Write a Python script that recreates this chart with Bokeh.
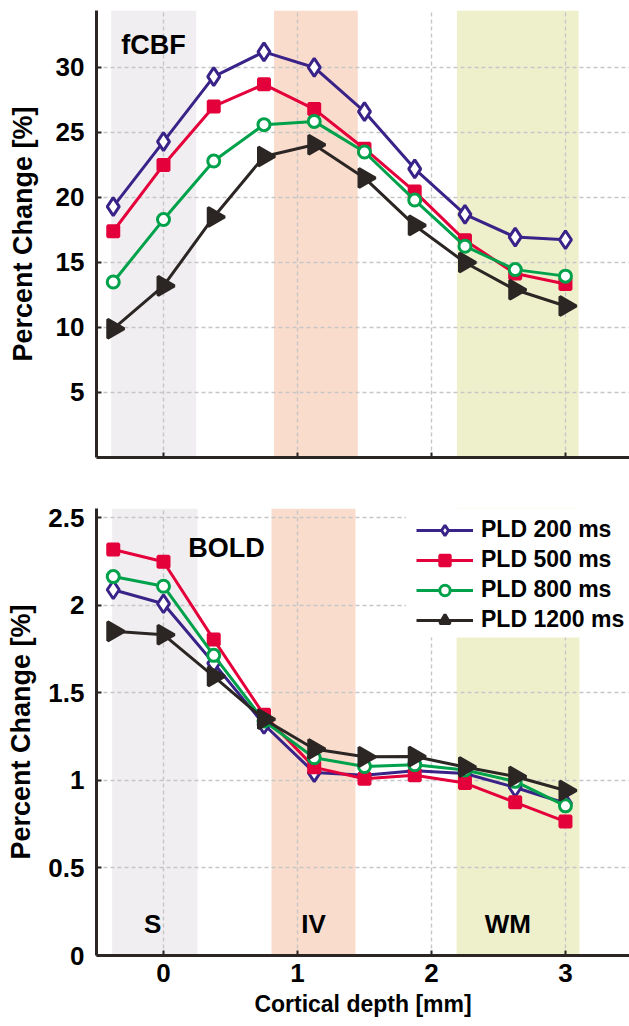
import math

from bokeh.embed import file_html
from bokeh.layouts import column
from bokeh.models import BoxAnnotation, FixedTicker, Label, Range1d
from bokeh.plotting import figure
from bokeh.resources import INLINE

# Cortical depth of each sampled layer [mm]
depth_mm = [-0.375, 0.0, 0.375, 0.75, 1.125, 1.5, 1.875, 2.25, 2.625, 3.0]

# fCBF percent change per post-labelling delay
cbf_pld200 = [19.3, 24.3, 29.3, 31.2, 30.0, 26.6, 22.2, 18.7, 16.95, 16.75]
cbf_pld500 = [17.4, 22.5, 27.0, 28.7, 26.8, 23.75, 20.45, 16.7, 14.15, 13.35]
cbf_pld800 = [13.5, 18.3, 22.8, 25.6, 25.85, 23.5, 19.8, 16.25, 14.45, 13.95]
cbf_pld1200 = [9.9, 13.2, 18.5, 23.15, 24.05, 21.5, 17.85, 15.0, 12.9, 11.65]

# BOLD percent change per post-labelling delay
bold_pld200 = [2.09, 2.01, 1.67, 1.32, 1.045, 1.03, 1.055, 1.04, 0.96, 0.87]
bold_pld500 = [2.32, 2.25, 1.805, 1.375, 1.075, 1.01, 1.03, 0.985, 0.875, 0.765]
bold_pld800 = [2.165, 2.11, 1.715, 1.34, 1.13, 1.08, 1.09, 1.06, 0.995, 0.855]
bold_pld1200 = [1.852, 1.833, 1.595, 1.35, 1.18, 1.135, 1.137, 1.077, 1.023, 0.943]

series_names = ["PLD 200 ms", "PLD 500 ms", "PLD 800 ms", "PLD 1200 ms"]

# Cortical regions: superficial, layer IV, white matter
region_names = ["S", "IV", "WM"]
region_label_x = [-0.08, 1.12, 2.57]
cbf_region_left = [-0.39, 0.825, 2.19]
cbf_region_right = [0.244, 1.45, 3.098]
bold_region_left = [-0.383, 0.806, 2.187]
bold_region_right = [0.254, 1.433, 3.104]

x_ticks = [0, 1, 2, 3]
cbf_y_ticks = [5, 10, 15, 20, 25, 30]
bold_y_ticks = [0, 0.5, 1, 1.5, 2, 2.5]
bold_y_tick_labels = ["0", "0.5", "1", "1.5", "2", "2.5"]

FONT = "Liberation Sans"
INK = "#2b2624"
series_colors = ["#3a2388", "#e4003a", "#00a14b", "#2b2624"]
series_markers = ["diamond", "square", "circle", "triangle"]
series_fills = ["white", "#e4003a", "white", "#2b2624"]
series_sizes = [18, 11, 12, 19]
series_angles = [0.0, 0.0, 0.0, -math.pi / 2]
region_colors = ["#f0eef0", "#fadccc", "#eef0cc"]

X_START, X_END = -0.5, 3.478


def make_panel(height, border_top, border_bottom, y_end, y_ticks, label_standoff):
    p = figure(
        width=629, height=height,
        x_range=Range1d(X_START, X_END), y_range=Range1d(0, y_end),
        output_backend="svg", toolbar_location=None,
        min_border_left=96, min_border_right=0,
        min_border_top=border_top, min_border_bottom=border_bottom,
    )
    p.outline_line_color = None
    p.background_fill_color = "white"

    p.xaxis.ticker = FixedTicker(ticks=x_ticks)
    p.yaxis.ticker = FixedTicker(ticks=y_ticks)
    p.xgrid.ticker = FixedTicker(ticks=x_ticks)
    p.ygrid.ticker = FixedTicker(ticks=y_ticks)
    p.grid.grid_line_color = "#c6c6c6"
    p.grid.grid_line_dash = "4 3"
    p.grid.grid_line_width = 1.4

    for ax in (p.xaxis, p.yaxis):
        ax.axis_line_color = INK
        ax.axis_line_width = 3
        ax.major_tick_line_color = INK
        ax.major_tick_line_width = 2
        ax.major_tick_in = 5
        ax.major_tick_out = 0
        ax.minor_tick_line_color = None
        ax.major_label_text_font = FONT
        ax.major_label_text_font_style = "bold"
        ax.major_label_text_color = "black"
        ax.axis_label_text_font = FONT
        ax.axis_label_text_font_style = "bold"
        ax.axis_label_text_color = "black"

    p.yaxis.major_label_text_font_size = "26px"
    p.yaxis.major_label_standoff = 12
    p.yaxis.axis_label = "Percent Change [%]"
    p.yaxis.axis_label_text_font_size = "27px"
    p.yaxis.axis_label_standoff = label_standoff
    return p


def add_regions(p, left, right, y_end):
    p.quad(left=left, right=right, bottom=0, top=y_end,
           fill_color=region_colors, line_color=None, level="image")


def add_series(p, values_list, with_legend):
    for name, vals, color, marker, fill, size, angle in zip(
            series_names, values_list, series_colors, series_markers,
            series_fills, series_sizes, series_angles):
        extra = {"legend_label": name} if with_legend else {}
        p.line(depth_mm, vals, line_color=color, line_width=3, **extra)
        p.scatter(depth_mm, vals, marker=marker, size=size, angle=angle,
                  line_color=color, line_width=3, fill_color=fill, **extra)


def add_text(p, x, y, text, size):
    p.add_layout(Label(x=x, y=y, text=text, text_font=FONT,
                       text_font_style="bold", text_font_size=size,
                       text_color="black", text_align="center",
                       text_baseline="middle"))


# ---- Panel A: fCBF ----
CBF_TOP = 34.38
p1 = make_panel(490, 10, 33, CBF_TOP, cbf_y_ticks, 15)
p1.xaxis.major_label_overrides = {t: "" for t in x_ticks}
add_regions(p1, cbf_region_left, cbf_region_right, CBF_TOP)
add_series(p1, [cbf_pld200, cbf_pld500, cbf_pld800, cbf_pld1200], False)
add_text(p1, -1.08, 33.6, "A", "22px")
add_text(p1, -0.075, 31.7, "fCBF", "27px")

# ---- Panel B: BOLD ----
BOLD_TOP = 2.554
p2 = make_panel(536, 18, 71, BOLD_TOP, bold_y_ticks, 9)
p2.yaxis.major_label_overrides = dict(zip(bold_y_ticks, bold_y_tick_labels))
p2.xaxis.major_label_text_font_size = "26px"
p2.xaxis.major_label_standoff = 8
p2.xaxis.axis_label = "Cortical depth [mm]"
p2.xaxis.axis_label_text_font_size = "23px"
p2.xaxis.axis_label_standoff = 6
add_regions(p2, bold_region_left, bold_region_right, BOLD_TOP)
add_series(p2, [bold_pld200, bold_pld500, bold_pld800, bold_pld1200], True)
add_text(p2, -1.08, 2.48, "B", "22px")
add_text(p2, 0.47, 2.326, "BOLD", "27px")
for name, x in zip(region_names, region_label_x):
    add_text(p2, x, 0.18, name, "26px")

# white backing behind the legend block, hiding grid and shading there
p2.add_layout(BoxAnnotation(left=1.81, right=X_END, bottom=1.817, top=BOLD_TOP,
                            fill_color="white", fill_alpha=1.0,
                            line_color=None, level="guide"))

leg = p2.legend[0]
leg.location = (320, 322)
leg.margin = 0
leg.padding = 0
leg.spacing = 3
leg.border_line_color = None
leg.background_fill_color = "white"
leg.background_fill_alpha = 1.0
leg.glyph_width = 57
leg.glyph_height = 26
leg.label_height = 26
leg.label_standoff = 8
leg.label_text_font = FONT
leg.label_text_font_style = "bold"
leg.label_text_font_size = "23px"
leg.label_text_color = "black"

layout = column(p1, p2, spacing=0)
open("out.html", "w").write(file_html(layout, INLINE))
